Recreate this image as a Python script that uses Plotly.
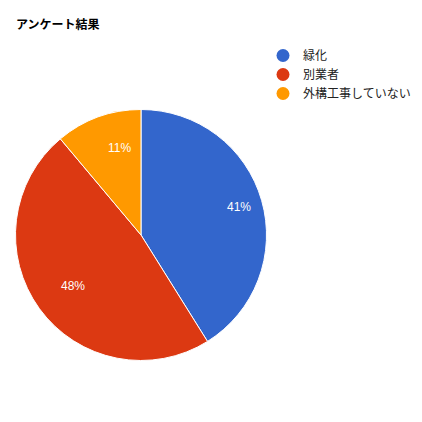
import math
import plotly.graph_objects as go

title = "アンケート結果"
categories = ["緑化", "別業者", "外構工事していない"]
values = [37, 43, 10]
colors = ["#3366cc", "#dc3912", "#ff9900"]

W = H = 406  # page body adds an 8px margin
# pie box in figure pixels
L, R, T, B = 7.5, 258.5, 101.5, 352.5
fig = go.Figure()
fig.add_trace(go.Pie(
    labels=categories, values=values, sort=False, direction="clockwise", rotation=0,
    marker=dict(colors=colors, line=dict(color="white", width=1)),
    textinfo="none",
    showlegend=False, hoverinfo="label+percent",
    domain=dict(x=[L/W, R/W], y=[1-B/H, 1-T/H]),
))
# percent labels placed at 0.81 of radius along each slice's mid angle
total = sum(values)
cx, cy, rad = (L+R)/2, (T+B)/2, (R-L)/2
cum = 0
anns = []
for v in values:
    mid = (cum + v/2) / total * 2*math.pi
    cum += v
    px = cx + 0.81*rad*math.sin(mid)
    py = cy - 0.81*rad*math.cos(mid)
    anns.append(dict(x=px/W, y=1-py/H, xref="paper", yref="paper", showarrow=False,
                     text=f"{round(100*v/total)}%",
                     font=dict(color="white", size=12, family="Liberation Sans, Arial, sans-serif")))
for c, col in zip(categories, colors):
    fig.add_trace(go.Scatter(x=[None], y=[None], mode="markers", name=c,
                             marker=dict(symbol="circle", size=13, color=col)))
fig.update_layout(
    width=W, height=H, margin=dict(l=0, r=0, t=0, b=0, autoexpand=False),
    paper_bgcolor="white", plot_bgcolor="white",
    title=dict(text="<b>" + title + "</b>", x=8/W, xanchor="left", y=1-17/H, yanchor="middle",
               font=dict(size=12, color="#000", family="Noto Sans CJK JP, sans-serif")),
    xaxis=dict(visible=False), yaxis=dict(visible=False),
    annotations=anns,
    legend=dict(x=255/W, xanchor="left", y=1-33/H, yanchor="top",
                font=dict(size=12, color="#222", family="Noto Sans CJK JP, sans-serif"),
                itemwidth=30, tracegroupgap=0, bgcolor="rgba(0,0,0,0)"),
)
fig.write_html("out.html")
